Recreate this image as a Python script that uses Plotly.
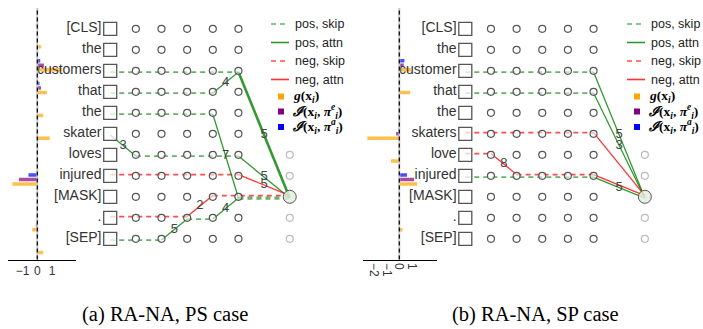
import plotly.graph_objects as go

W, H = 703, 329

# ---------------- data ----------------
tokens_a = ["[CLS]", "the", "customers", "that", "the", "skater", "loves",
            "injured", "[MASK]", ".", "[SEP]"]
tokens_b = ["[CLS]", "the", "customer", "that", "the", "skaters", "love",
            "injured", "[MASK]", ".", "[SEP]"]
ROWS = list(range(11))

# bar values per token: g(x_i), I(x_i, pi^e_i), I(x_i, pi^a_i)
g_a = [0, 0.25, 1.65, 0.65, 0.4, 0.85, 0, -1.7, 0, -0.35, 0.4]
ie_a = [0, 0, 0.45, 0.25, 0, 0, 0, -1.25, 0, -0.1, 0]
ia_a = [0, 0, 0.2, 0.15, 0, 0, 0, -0.6, 0, 0, 0]

g_b = [0, 0.1, 0.9, 0.85, -0.1, -2.5, -0.65, 1.4, 0, 0.25, 0]
ie_b = [0, 0, 0.35, 0.05, 0, -0.25, 0, 1.15, 0, 0.05, 0]
ia_b = [0, 0, 0.4, 0, 0.05, -0.05, 0, 0.6, 0, 0, 0]

bar_ticks_a = [-1, 0, 1]
bar_ticks_b = [-2, -1, 0, 1]

LAYERS = [1, 2, 3, 4, 5]     # layer columns (0 = input squares)
FINAL_COL = 7
FINAL_ROWS = [6, 7, 9, 10]
TARGET_ROW = 8

# skip paths: (row, col_from, col_to, sign, weight)
skip_a = [(2, 0, 5, "pos", 1), (3, 0, 4, "pos", 1), (4, 0, 4, "pos", 1),
          (6, 1, 5, "pos", 1), (7, 0, 5, "neg", 1), (8, 4, 7, "neg", 1),
          (8, 5, 7, "pos", 2), (9, 0, 3, "neg", 1), (9, 3, 4, "pos", 1),
          (10, 0, 2, "pos", 1)]
# attention edges: (row_from, col_from, row_to, col_to, sign, weight, head)
attn_a = [(5, 0, 6, 1, "pos", 1, "3"), (10, 2, 9, 3, "pos", 1, "5"),
          (9, 3, 8, 4, "neg", 1, "2"), (9, 4, 8, 5, "pos", 1, "4"),
          (4, 4, 8, 5, "pos", 1, "7"), (3, 4, 2, 5, "pos", 1, "4"),
          (2, 5, 8, 7, "pos", 2, "5"), (6, 5, 8, 7, "pos", 1, "5"),
          (7, 5, 8, 7, "neg", 1, "5")]

skip_b = [(2, 0, 5, "pos", 1), (3, 0, 5, "pos", 1), (5, 0, 5, "neg", 1),
          (6, 0, 1, "neg", 1), (7, 0, 5, "pos", 1), (7, 2, 5, "neg", 1)]
attn_b = [(2, 5, 8, 7, "pos", 1, "5"), (3, 5, 8, 7, "pos", 1, "3"),
          (5, 5, 8, 7, "neg", 1, ""), (6, 1, 7, 2, "neg", 1, "8"),
          (7, 5, 8, 7, "pos", 1, "5"), (7, 5, 8, 7, "neg", 1, "")]

captions = ["(a) RA-NA, PS case", "(b) RA-NA, SP case"]

legend_lines = [("pos, skip", "pos_skip"), ("pos, attn", "pos_attn"),
                ("neg, skip", "neg_skip"), ("neg, attn", "neg_attn")]
legend_marks = [("<b><i>g</i>(x<sub><i>i</i></sub>)</b>", "#FFA500"),
                ("<b><i>ℐ</i>(x<sub><i>i</i></sub>, <i>π</i><sup><i>e</i></sup><sub><i>i</i></sub>)</b>", "#800080"),
                ("<b><i>ℐ</i>(x<sub><i>i</i></sub>, <i>π</i><sup><i>a</i></sup><sub><i>i</i></sub>)</b>", "#0000FF")]

# ---------------- styles ----------------
COL = {"pos_skip": "rgba(0,128,0,0.6)", "pos_attn": "rgba(0,128,0,0.8)",
       "neg_skip": "rgba(255,0,0,0.7)", "neg_attn": "rgba(255,0,0,0.8)"}
DASH = {"pos_skip": "5px,4px", "neg_skip": "5px,4px", "pos_attn": "solid", "neg_attn": "solid"}
OFF = {"pos": 0.06, "neg": -0.06}
SANS = "Liberation Sans, Arial, sans-serif"
SERIF = "Liberation Serif, Times New Roman, serif"

fig = go.Figure()


def panel(tokens, g, ie, ia, skips, attns, xb, yb, xn, yn):
    # attribution bars (top to bottom: pi^a, pi^e, g)
    for vals, color in [(ia, "rgba(0,0,255,0.7)"), (ie, "rgba(128,0,128,0.7)"),
                        (g, "rgba(255,165,0,0.7)")]:
        fig.add_trace(go.Bar(x=vals, y=ROWS, orientation="h", xaxis=xb, yaxis=yb,
                             marker=dict(color=color, line_width=0),
                             showlegend=False, hoverinfo="skip"))
    # skip paths
    for sign in ["pos", "neg"]:
        key = sign + "_skip"
        for wt in [1, 2]:
            xs, ys = [], []
            for (r, c0, c1, s, w) in skips:
                if s == sign and w == wt:
                    xs += [c0, c1, None]
                    ys += [r + OFF[s], r + OFF[s], None]
            if xs:
                fig.add_trace(go.Scatter(
                    x=xs, y=ys, mode="lines", xaxis=xn, yaxis=yn,
                    line=dict(color=COL[key], width=1.8 if wt == 1 else 3.2,
                              dash=DASH[key]),
                    showlegend=False, hoverinfo="skip"))
    # attention edges
    for sign in ["pos", "neg"]:
        key = sign + "_attn"
        for wt in [1, 2]:
            xs, ys = [], []
            for (r0, c0, r1, c1, s, w, lab) in attns:
                if s == sign and w == wt:
                    xs += [c0, c1, None]
                    ys += [r0 + OFF[s], r1 + OFF[s], None]
            if xs:
                fig.add_trace(go.Scatter(
                    x=xs, y=ys, mode="lines", xaxis=xn, yaxis=yn,
                    line=dict(color=COL[key], width=1.3 if wt == 1 else 2.6),
                    showlegend=False, hoverinfo="skip"))
    # nodes
    fig.add_trace(go.Scatter(
        x=[c for r in ROWS for c in LAYERS], y=[r for r in ROWS for c in LAYERS],
        mode="markers", xaxis=xn, yaxis=yn, showlegend=False, hoverinfo="skip",
        marker=dict(symbol="circle", size=7, color="rgba(255,255,255,0.55)",
                    line=dict(color="#555", width=1.2))))
    fig.add_trace(go.Scatter(
        x=[FINAL_COL] * len(FINAL_ROWS), y=FINAL_ROWS, mode="markers",
        xaxis=xn, yaxis=yn, showlegend=False, hoverinfo="skip",
        marker=dict(symbol="circle", size=7, color="rgba(255,255,255,0.55)",
                    line=dict(color="#bbb", width=1.2))))
    fig.add_trace(go.Scatter(
        x=[FINAL_COL], y=[TARGET_ROW], mode="markers", xaxis=xn, yaxis=yn,
        showlegend=False, hoverinfo="skip",
        marker=dict(symbol="circle", size=13, color="rgba(225,240,225,0.85)",
                    line=dict(color="#555", width=1))))
    fig.add_trace(go.Scatter(
        x=[0] * len(ROWS), y=ROWS, mode="markers", xaxis=xn, yaxis=yn,
        showlegend=False, hoverinfo="skip",
        marker=dict(symbol="square", size=13, color="rgba(255,255,255,0.75)",
                    line=dict(color="#555", width=1.3))))
    # token labels
    fig.add_trace(go.Scatter(
        x=[-0.34] * len(ROWS), y=ROWS, mode="text", text=tokens,
        textposition="middle left", xaxis=xn, yaxis=yn, showlegend=False,
        hoverinfo="skip", textfont=dict(family=SANS, size=14, color="#333")))
    # head labels at edge midpoints
    lx, ly, lt = [], [], []
    for (r0, c0, r1, c1, s, w, lab) in attns:
        if lab:
            lx.append((c0 + c1) / 2)
            ly.append((r0 + r1) / 2 + OFF[s])
            lt.append(lab)
    fig.add_trace(go.Scatter(
        x=lx, y=ly, mode="text", text=lt, textposition="middle center",
        xaxis=xn, yaxis=yn, showlegend=False, hoverinfo="skip",
        textfont=dict(family=SANS, size=13, color="#444")))


panel(tokens_a, g_a, ie_a, ia_a, skip_a, attn_a, "x", "y", "x2", "y2")
panel(tokens_b, g_b, ie_b, ia_b, skip_b, attn_b, "x3", "y3", "x4", "y4")

# ---------------- layout ----------------
bar_ydom = [1 - 259.5 / H, 1 - 8 / H]
net_yrange = [(H - 28.8) / 21.0, -28.8 / 21.0]
SP = 25.65


def bar_x(lo_px, hi_px, zero_px, scale, ticks, angle, anchor):
    return dict(domain=[lo_px / W, hi_px / W],
                range=[(lo_px - zero_px) / scale, (hi_px - zero_px) / scale],
                showgrid=False, zeroline=False, showline=True, linecolor="black",
                linewidth=1, ticks="", tickvals=ticks, tickangle=angle,
                tickfont=dict(family=SANS, size=12, color="#333"), anchor=anchor,
                fixedrange=True)


def net_x(sq_px, anchor):
    return dict(domain=[0, 1], range=[-sq_px / SP, (W - sq_px) / SP], visible=False,
                anchor=anchor, fixedrange=True)


fig.update_layout(
    width=W, height=H,
    margin=dict(l=0, r=0, t=0, b=0, autoexpand=False),
    paper_bgcolor="white", plot_bgcolor="rgba(0,0,0,0)",
    barmode="group", bargap=0.41, bargroupgap=0.22,
    showlegend=False,
    xaxis=bar_x(8, 76, 37.3, 14.7, bar_ticks_a, 0, "y"),
    yaxis=dict(domain=bar_ydom, range=[10.5, -0.5], visible=False, anchor="x",
               fixedrange=True),
    xaxis2=net_x(110.2, "y2"),
    yaxis2=dict(domain=[0, 1], range=net_yrange, visible=False, anchor="x2",
                fixedrange=True),
    xaxis3=bar_x(363, 437, 399.3, 12.8, bar_ticks_b, 90, "y3"),
    yaxis3=dict(domain=bar_ydom, range=[10.5, -0.5], visible=False, anchor="x3",
                fixedrange=True),
    xaxis4=net_x(465.3, "y4"),
    yaxis4=dict(domain=[0, 1], range=net_yrange, visible=False, anchor="x4",
                fixedrange=True),
    font=dict(family=SANS),
)

# zero lines of the attribution bars
for xr, yr in [("x", "y domain"), ("x3", "y3 domain")]:
    fig.add_shape(type="line", xref=xr, yref=yr, x0=0, x1=0, y0=0, y1=1,
                  line=dict(color="#c8c8c8", width=2))
    fig.add_shape(type="line", xref=xr, yref=yr, x0=0, x1=0, y0=0, y1=1,
                  line=dict(color="black", width=1.2, dash="4px,3px"))

# legends (one per panel), drawn in pixel positions of the figure
LINE_Y = [24, 42.5, 61, 79.5]
MARK_Y = [96.5, 111.5, 127]
for sx in [271, 627]:
    for (label, key), yy in zip(legend_lines, LINE_Y):
        fig.add_shape(type="line", xref="paper", yref="paper",
                      x0=sx / W, x1=(sx + 18) / W, y0=1 - yy / H, y1=1 - yy / H,
                      line=dict(color=COL[key], width=1.6, dash=DASH[key]))
        fig.add_annotation(text=label, x=(sx + 22) / W, y=1 - yy / H,
                           xref="paper", yref="paper", showarrow=False,
                           xanchor="left", yanchor="middle",
                           font=dict(family=SANS, size=12.5, color="#222"))
    for (label, color), yy in zip(legend_marks, MARK_Y):
        fig.add_shape(type="rect", xref="paper", yref="paper",
                      x0=(sx + 7) / W, x1=(sx + 13) / W,
                      y0=1 - (yy - 3) / H, y1=1 - (yy + 3) / H,
                      fillcolor=color, line_width=0)
        fig.add_annotation(text=label, x=(sx + 20) / W, y=1 - yy / H,
                           xref="paper", yref="paper", showarrow=False,
                           xanchor="left", yanchor="middle",
                           font=dict(family=SERIF, size=13.5, color="black"))

for txt, cx in zip(captions, [165, 535]):
    fig.add_annotation(text=txt, x=cx / W, y=1 - 314 / H, xref="paper", yref="paper",
                       showarrow=False, xanchor="center", yanchor="middle",
                       font=dict(family=SERIF, size=20.5, color="black"))

fig.write_html("out.html")
